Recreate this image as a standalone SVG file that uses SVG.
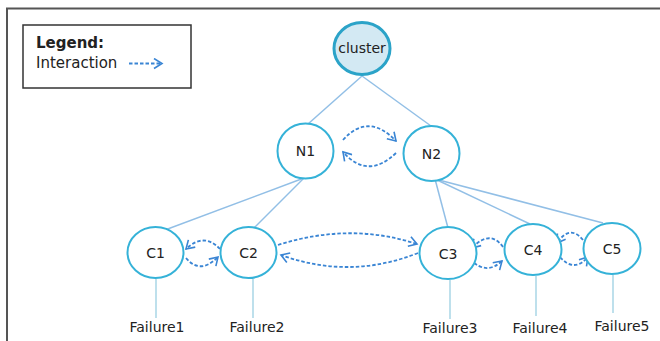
<svg xmlns="http://www.w3.org/2000/svg" width="660" height="341" viewBox="0 0 660 341">
  <defs>
    <marker id="open-arrow" viewBox="0 0 12 12" refX="10" refY="6" markerWidth="12" markerHeight="12" markerUnits="userSpaceOnUse" orient="auto">
      <path d="M2,1 L10,6 L2,11" fill="none" stroke="#3a85d4" stroke-width="1.6"/>
    </marker>
  </defs>
  <style>
    .frame { fill: none; stroke: #555; stroke-width: 2; }
    .legend-box { fill: #fff; stroke: #333; stroke-width: 1.5; }
    .node { fill: #fff; stroke: #35b2d8; stroke-width: 2; }
    .root { fill: #d3e9f3; stroke: #2ba3c8; stroke-width: 3; }
    .label { font-family: "DejaVu Sans", "Liberation Sans", sans-serif; font-size: 14px; fill: #222; text-anchor: middle; }
    .legend-text { font-family: "DejaVu Sans", "Liberation Sans", sans-serif; font-size: 15px; fill: #222; }
    .tree { stroke: #92bfe6; stroke-width: 1.5; fill: none; }
    .fail { stroke: #a8d6e6; stroke-width: 1.5; fill: none; }
    .interact { stroke: #3a85d4; stroke-width: 1.8; stroke-dasharray: 3.5 2; fill: none; marker-end: url(#open-arrow); }
  </style>

  <rect width="660" height="341" fill="#fff"/>
  <!-- outer frame (open on the right and bottom) -->
  <path class="frame" d="M7,341 V8.5 H660"/>

  <!-- legend -->
  <g id="legend">
    <rect class="legend-box" x="23" y="25" width="168" height="63"/>
    <text class="legend-text" x="36" y="48" font-weight="bold">Legend:</text>
    <text class="legend-text" x="36" y="68">Interaction</text>
    <path class="interact" d="M129,63.5 H162"/>
  </g>

  <!-- connectors -->
  <g id="connectors">
    <path class="tree" d="M362,76 L308,124"/>
    <path class="tree" d="M362,76 L431,126"/>
    <path class="tree" d="M304,178 L165,230"/>
    <path class="tree" d="M304,178 L253,229"/>
    <path class="tree" d="M435,179 L448,228"/>
    <path class="tree" d="M435,179 L530,224"/>
    <path class="tree" d="M435,179 L603,223"/>

    <path class="fail" d="M156,279 V318"/>
    <path class="fail" d="M253,279 V318"/>
    <path class="fail" d="M450,280 V319"/>
    <path class="fail" d="M536,276 V316"/>
    <path class="fail" d="M613,275 V313"/>

    <!-- interactions -->
    <path class="interact" d="M343,140 Q368,112 396,141"/>
    <path class="interact" d="M396,153 Q368,180 343,152"/>
    <path class="interact" d="M220,249 Q204,232 186,249"/>
    <path class="interact" d="M186,258 Q200,275 218,257"/>
    <path class="interact" d="M278,245 Q350,222 417,244"/>
    <path class="interact" d="M418,253 Q350,280 281,255"/>
    <path class="interact" d="M503,247 Q490,229 472,248"/>
    <path class="interact" d="M470,259 Q486,276 502,261"/>
    <path class="interact" d="M583,240 Q570,224 557,243"/>
    <path class="interact" d="M560,257 Q574,273 588,257"/>
  </g>

  <g id="cluster">
    <ellipse class="root" cx="362" cy="48.5" rx="28" ry="26"/>
    <text class="label" x="362" y="53">cluster</text>
  </g>
  <g id="N1">
    <ellipse class="node" cx="305.5" cy="151" rx="28" ry="27.5"/>
    <text class="label" x="305.5" y="156">N1</text>
  </g>
  <g id="N2">
    <ellipse class="node" cx="431.5" cy="153.5" rx="28" ry="27.5"/>
    <text class="label" x="431.5" y="159">N2</text>
  </g>
  <g id="C1">
    <ellipse class="node" cx="155.5" cy="252.5" rx="28" ry="25.5"/>
    <text class="label" x="155.5" y="258">C1</text>
  </g>
  <g id="C2">
    <ellipse class="node" cx="248.5" cy="252.5" rx="28" ry="25.5"/>
    <text class="label" x="248.5" y="258">C2</text>
  </g>
  <g id="C3">
    <ellipse class="node" cx="448" cy="253" rx="28.5" ry="26"/>
    <text class="label" x="448" y="259">C3</text>
  </g>
  <g id="C4">
    <ellipse class="node" cx="533" cy="249.5" rx="28.5" ry="25.5"/>
    <text class="label" x="533" y="255">C4</text>
  </g>
  <g id="C5">
    <ellipse class="node" cx="612" cy="248.5" rx="28.5" ry="25.5"/>
    <text class="label" x="612" y="254">C5</text>
  </g>

  <g id="failures">
    <text class="label" x="157" y="332">Failure1</text>
    <text class="label" x="257" y="332">Failure2</text>
    <text class="label" x="450" y="333">Failure3</text>
    <text class="label" x="540" y="333">Failure4</text>
    <text class="label" x="622" y="331">Failure5</text>
  </g>
</svg>
